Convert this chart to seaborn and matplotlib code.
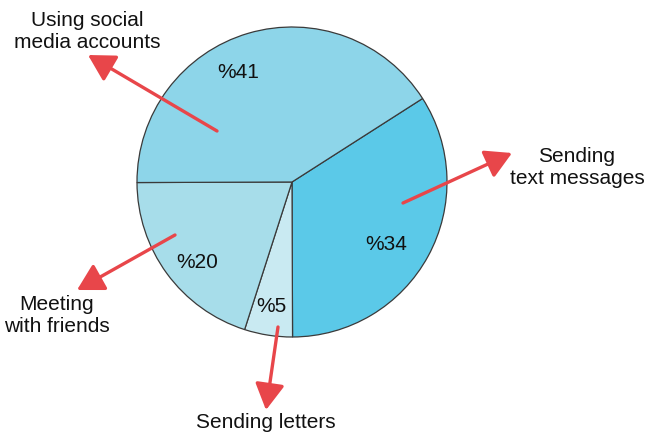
import matplotlib
matplotlib.use("Agg")
import matplotlib.pyplot as plt
import seaborn as sns

# Data
categories = ["Sending\ntext messages", "Sending letters", "Meeting\nwith friends", "Using social\nmedia accounts"]
values = [34, 5, 20, 41]
pct_labels = ["%34", "%5", "%20", "%41"]
colors = ["#5BC9E8", "#C9EAF2", "#A7DDEA", "#8DD5E9"]

sns.set_theme(style="white")
plt.rcParams['font.family'] = ['Liberation Sans', 'DejaVu Sans']

W, H = 646, 434
fig = plt.figure(figsize=(W / 100, H / 100), dpi=100)
ax = fig.add_axes([0, 0, 1, 1])

def Y(y):
    return H - y

cx, cy, r = 292, 182, 155
ax.pie(values, colors=colors, startangle=32.6, counterclock=False,
       center=(cx, Y(cy)), radius=r, frame=False,
       wedgeprops=dict(edgecolor="#3a3a3a", linewidth=0.9))
ax.set_xlim(0, W)
ax.set_ylim(0, H)
ax.set_aspect("equal")
ax.axis("off")

# layout: percent label positions, arrow start/tip, category label positions
pct_pos = [(386, 245), (271, 307), (197, 262), (238, 73)]
arrow_start = [(403, 203), (278, 327), (175, 235), (217, 131)]
arrow_tip = [(512, 153), (266, 410), (77, 290), (88, 55)]
label_pos = [(577, 167), (266, 422), (57, 315), (87, 31)]

for lab, (x, y) in zip(pct_labels, pct_pos):
    ax.text(x, Y(y), lab, ha="center", va="center", fontsize=15, color="#111111")

for (sx, sy), (tx, ty) in zip(arrow_start, arrow_tip):
    ax.annotate("", xy=(tx, Y(ty)), xytext=(sx, Y(sy)),
                arrowprops=dict(arrowstyle="-|>,head_width=0.45,head_length=0.8",
                                mutation_scale=20, color="#E8464A", lw=2.4,
                                shrinkA=0, shrinkB=0))

for lab, (x, y) in zip(categories, label_pos):
    ax.text(x, Y(y), lab, ha="center", va="center", fontsize=15,
            color="#111111", linespacing=1.2)

fig.savefig("out.png", dpi=100)
